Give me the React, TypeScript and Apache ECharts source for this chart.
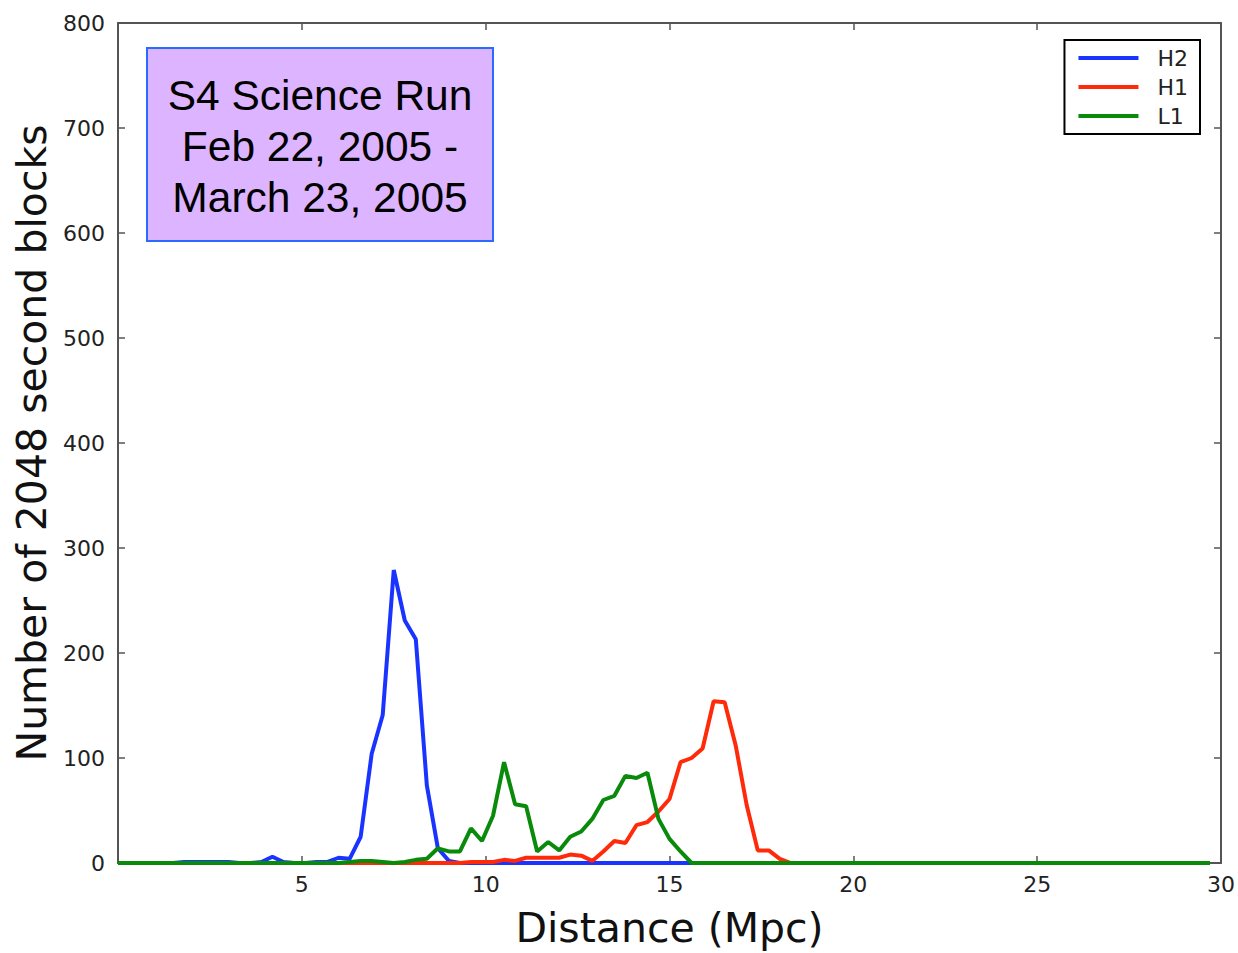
import React, { useEffect, useRef } from "react";
import * as echarts from "echarts";

const distances = [
  0.0, 0.3, 0.6, 0.9, 1.2, 1.5, 1.8, 2.1, 2.4, 2.7,
  3.0, 3.3, 3.6, 3.9, 4.2, 4.5, 4.8, 5.1, 5.4, 5.7,
  6.0, 6.3, 6.6, 6.9, 7.2, 7.5, 7.8, 8.1, 8.4, 8.7,
  9.0, 9.3, 9.6, 9.9, 10.2, 10.5, 10.8, 11.1, 11.4, 11.7,
  12.0, 12.3, 12.6, 12.9, 13.2, 13.5, 13.8, 14.1, 14.4, 14.7,
  15.0, 15.3, 15.6, 15.9, 16.2, 16.5, 16.8, 17.1, 17.4, 17.7,
  18.0, 18.3, 18.6, 18.9, 19.2, 19.5, 19.8, 20.1, 20.4, 20.7,
  21.0, 21.3, 21.6, 21.9, 22.2, 22.5, 22.8, 23.1, 23.4, 23.7,
  24.0, 24.3, 24.6, 24.9, 25.2, 25.5, 25.8, 26.1, 26.4, 26.7,
  27.0, 27.3, 27.6, 27.9, 28.2, 28.5, 28.8, 29.1, 29.4, 29.7,
];

const h2 = [
  0, 0, 0, 0, 0, 0, 1, 1, 1, 1,
  1, 0, 0, 1, 6, 1, 0, 0, 1, 1,
  5, 4, 25, 104, 141, 279, 231, 213, 74, 14,
  2, 0, 0, 0, 0, 0, 0, 0, 0, 0,
  0, 0, 0, 0, 0, 0, 0, 0, 0, 0,
  0, 0, 0, 0, 0, 0, 0, 0, 0, 0,
  0, 0, 0, 0, 0, 0, 0, 0, 0, 0,
  0, 0, 0, 0, 0, 0, 0, 0, 0, 0,
  0, 0, 0, 0, 0, 0, 0, 0, 0, 0,
  0, 0, 0, 0, 0, 0, 0, 0, 0, 0,
];

const h1 = [
  0, 0, 0, 0, 0, 0, 0, 0, 0, 0,
  0, 0, 0, 0, 0, 0, 0, 0, 0, 0,
  0, 0, 0, 0, 0, 0, 0, 0, 0, 0,
  0, 0, 1, 1, 1, 3, 2, 5, 5, 5,
  5, 8, 7, 2, 11, 21, 19, 36, 39, 49,
  61, 96, 100, 109, 154, 153, 112, 55, 12, 12,
  4, 0, 0, 0, 0, 0, 0, 0, 0, 0,
  0, 0, 0, 0, 0, 0, 0, 0, 0, 0,
  0, 0, 0, 0, 0, 0, 0, 0, 0, 0,
  0, 0, 0, 0, 0, 0, 0, 0, 0, 0,
];

const l1 = [
  0, 0, 0, 0, 0, 0, 0, 0, 0, 0,
  0, 0, 0, 0, 0, 0, 0, 0, 0, 0,
  0, 1, 2, 2, 1, 0, 1, 3, 4, 14,
  11, 11, 33, 21, 45, 96, 56, 54, 11, 20,
  12, 25, 30, 42, 60, 64, 83, 81, 86, 42,
  23, 11, 0, 0, 0, 0, 0, 0, 0, 0,
  0, 0, 0, 0, 0, 0, 0, 0, 0, 0,
  0, 0, 0, 0, 0, 0, 0, 0, 0, 0,
  0, 0, 0, 0, 0, 0, 0, 0, 0, 0,
  0, 0, 0, 0, 0, 0, 0, 0, 0, 0,
];

const seriesNames = ["H2", "H1", "L1"];
const seriesColors = ["#1a34ff", "#ff2a0a", "#0a8a0a"];
const seriesValues = [h2, h1, l1];
const annotationLines = ["S4 Science Run", "Feb 22, 2005 -", "March 23, 2005"];

const AXIS_COLOR = "#555555";
const FONT = "DejaVu Sans";

export default function App() {
  const ref = useRef<HTMLDivElement>(null);

  useEffect(() => {
    if (!ref.current) return;
    document.body.style.margin = "0";
    document.body.style.overflow = "hidden";
    const chart = echarts.init(ref.current, undefined, { renderer: "svg" });

    const axisLine = { show: true, onZero: false, lineStyle: { color: AXIS_COLOR, width: 2 } };
    const axisTick = { show: true, inside: true, length: 7, lineStyle: { color: AXIS_COLOR, width: 1.5 } };

    chart.setOption({
      animation: false,
      backgroundColor: "#ffffff",
      grid: { left: 118, top: 23, width: 1104, height: 845, containLabel: false },
      legend: {
        orient: "vertical",
        right: 38,
        top: 40,
        data: seriesNames,
        icon: "rect",
        itemWidth: 60,
        itemHeight: 4,
        itemGap: 7,
        padding: [7, 12, 7, 14],
        borderColor: "#000000",
        borderWidth: 2,
        backgroundColor: "#ffffff",
        formatter: (n: string) => "  " + n,
        textStyle: { fontFamily: FONT, fontSize: 22, color: "#222222" },
      },
      xAxis: [
        {
          type: "value",
          min: 0,
          max: 30,
          interval: 5,
          position: "bottom",
          axisLine,
          axisTick,
          splitLine: { show: false },
          axisLabel: {
            margin: 10,
            fontFamily: FONT,
            fontSize: 22,
            color: "#222222",
            formatter: (v: number) => (v === 0 ? "" : String(v)),
          },
          name: "Distance (Mpc)",
          nameLocation: "middle",
          nameGap: 44,
          nameTextStyle: { fontFamily: FONT, fontSize: 41, color: "#111111" },
        },
        {
          type: "value",
          min: 0,
          max: 30,
          interval: 5,
          position: "top",
          axisLine,
          axisTick,
          splitLine: { show: false },
          axisLabel: { show: false },
        },
      ],
      yAxis: [
        {
          type: "value",
          min: 0,
          max: 800,
          interval: 100,
          position: "left",
          axisLine,
          axisTick,
          splitLine: { show: false },
          axisLabel: { margin: 13, fontFamily: FONT, fontSize: 22, color: "#222222" },
          name: "Number of 2048 second blocks",
          nameLocation: "middle",
          nameGap: 66,
          nameTextStyle: { fontFamily: FONT, fontSize: 41, color: "#111111" },
        },
        {
          type: "value",
          min: 0,
          max: 800,
          interval: 100,
          position: "right",
          axisLine,
          axisTick,
          splitLine: { show: false },
          axisLabel: { show: false },
        },
      ],
      series: seriesNames.map((name, i) => ({
        name,
        type: "line",
        xAxisIndex: 0,
        yAxisIndex: 0,
        showSymbol: false,
        symbol: "none",
        color: seriesColors[i],
        lineStyle: { color: seriesColors[i], width: 4 },
        itemStyle: { color: seriesColors[i] },
        data: distances.map((d, j) => [d, seriesValues[i][j]]),
        z: 2 + i,
      })),
      graphic: [
        {
          type: "group",
          left: 146,
          top: 47,
          children: [
            {
              type: "rect",
              shape: { x: 0, y: 0, width: 346, height: 193 },
              style: { fill: "#dcb4ff", stroke: "#2a6bff", lineWidth: 2 },
            },
            ...annotationLines.map((t, i) => ({
              type: "text",
              x: 173,
              y: 47 + i * 51,
              style: {
                text: t,
                fontFamily: "Liberation Sans",
                fontSize: 42.5,
                fill: "#000000",
                textAlign: "center",
                textVerticalAlign: "middle",
              },
            })),
          ],
        },
      ],
    });

    return () => chart.dispose();
  }, []);

  return (
    <div
      ref={ref}
      style={{ position: "absolute", left: 0, top: 0, width: 1238, height: 953 }}
    />
  );
}
